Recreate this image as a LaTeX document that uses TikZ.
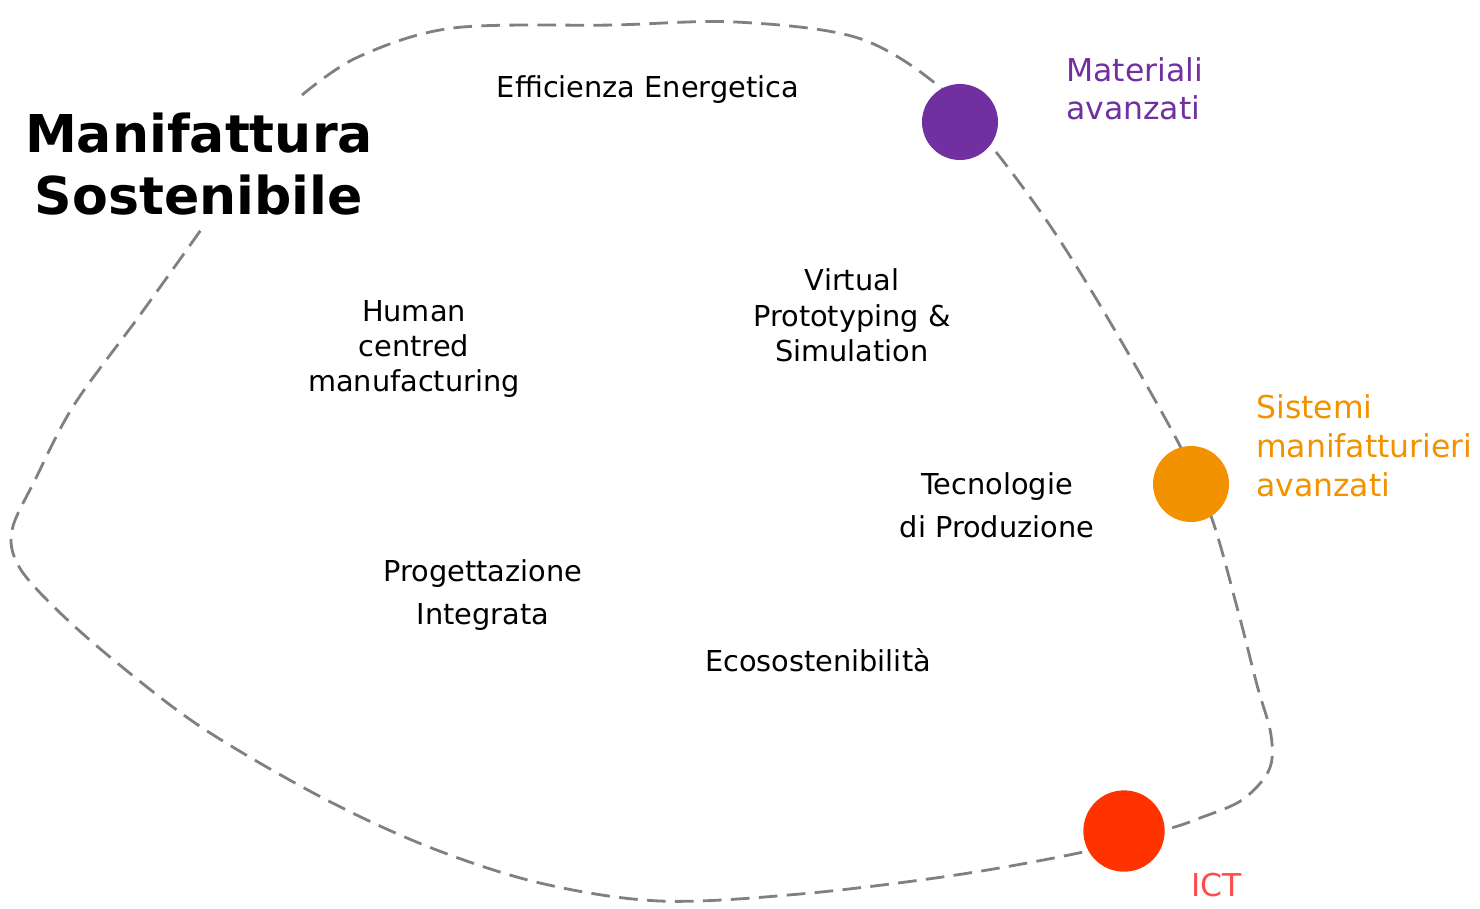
\documentclass[tikz,border=0pt]{standalone}
\usepackage{fontspec}
\setmainfont{DejaVu Sans}
\definecolor{cpurple}{HTML}{7030A0}
\definecolor{corange}{HTML}{F39200}
\definecolor{cred}{HTML}{FF3300}
\definecolor{cictred}{HTML}{FF4B4B}
\definecolor{cline}{HTML}{808080}
\begin{document}
\begin{tikzpicture}[x=0.75pt,y=-0.75pt,
  body/.style={inner sep=0pt,anchor=base,font=\fontsize{21.6}{26}\selectfont},
  label/.style={inner sep=0pt,anchor=base west,font=\fontsize{23.6}{28}\selectfont},
  titletxt/.style={inner sep=0pt,anchor=base,font=\fontsize{39.1}{46}\selectfont\bfseries},
  dot/.style={circle,inner sep=0pt,draw=none},
  loop/.style={draw=cline,line width=2.1pt,dash pattern=on 14pt off 7pt}]
\useasboundingbox (0,0) rectangle (1480,908);
% dashed outline
\draw[loop] plot[smooth,tension=0.55] coordinates {
 (302,95) (358,57) (453,28) (613,25) (736,22)
 (858,38) (941,88)
 (996,152) (1053,230) (1110,322) (1179,444)
 (1212,519) (1238,611) (1257,685) (1271,735)
 (1269,770) (1242,800) (1200,818) (1168,829)
 (1088,851) (956,875) (800,894) (660,901)
 (540,883) (429,847) (321,797) (201,727)
 (110,657) (52,605) (18,565) (12,530) (35,480)
 (74,405) (140,315) (203,227)};
% circles
\node[dot,fill=cpurple,minimum size=57pt] (mat) at (960,122) {};
\node[dot,fill=corange,minimum size=57pt] (sis) at (1191,484) {};
\node[dot,fill=cred,minimum size=61pt] (ict) at (1124,831) {};
% title
\node[titletxt] (t1) at (199,152) {Manifattura};
\node[titletxt] (t2) at (199,214) {Sostenibile};
% body labels
\node[body] (ee) at (648,97) {Efficienza Energetica};
\node[body] (h1) at (414,321) {Human};
\node[body] (h2) at (414,356) {centred};
\node[body] (h3) at (414,391) {manufacturing};
\node[body] (v1) at (852,290) {Virtual};
\node[body] (v2) at (852,326) {Prototyping \&};
\node[body] (v3) at (852,361) {Simulation};
\node[body] (tp1) at (997,494) {Tecnologie};
\node[body] (tp2) at (997,537) {di Produzione};
\node[body] (pi1) at (483,581) {Progettazione};
\node[body] (pi2) at (483,624) {Integrata};
\node[body] (eco) at (818,671) {Ecosostenibilità};
% coloured labels
\node[label,text=cpurple] (ma1) at (1066,81) {Materiali};
\node[label,text=cpurple] (ma2) at (1066,119) {avanzati};
\node[label,text=corange] (sm1) at (1256,418) {Sistemi};
\node[label,text=corange] (sm2) at (1256,457) {manifatturieri};
\node[label,text=corange] (sm3) at (1256,496) {avanzati};
\node[label,text=cictred] (ictl) at (1191,896) {ICT};
\end{tikzpicture}
\end{document}
